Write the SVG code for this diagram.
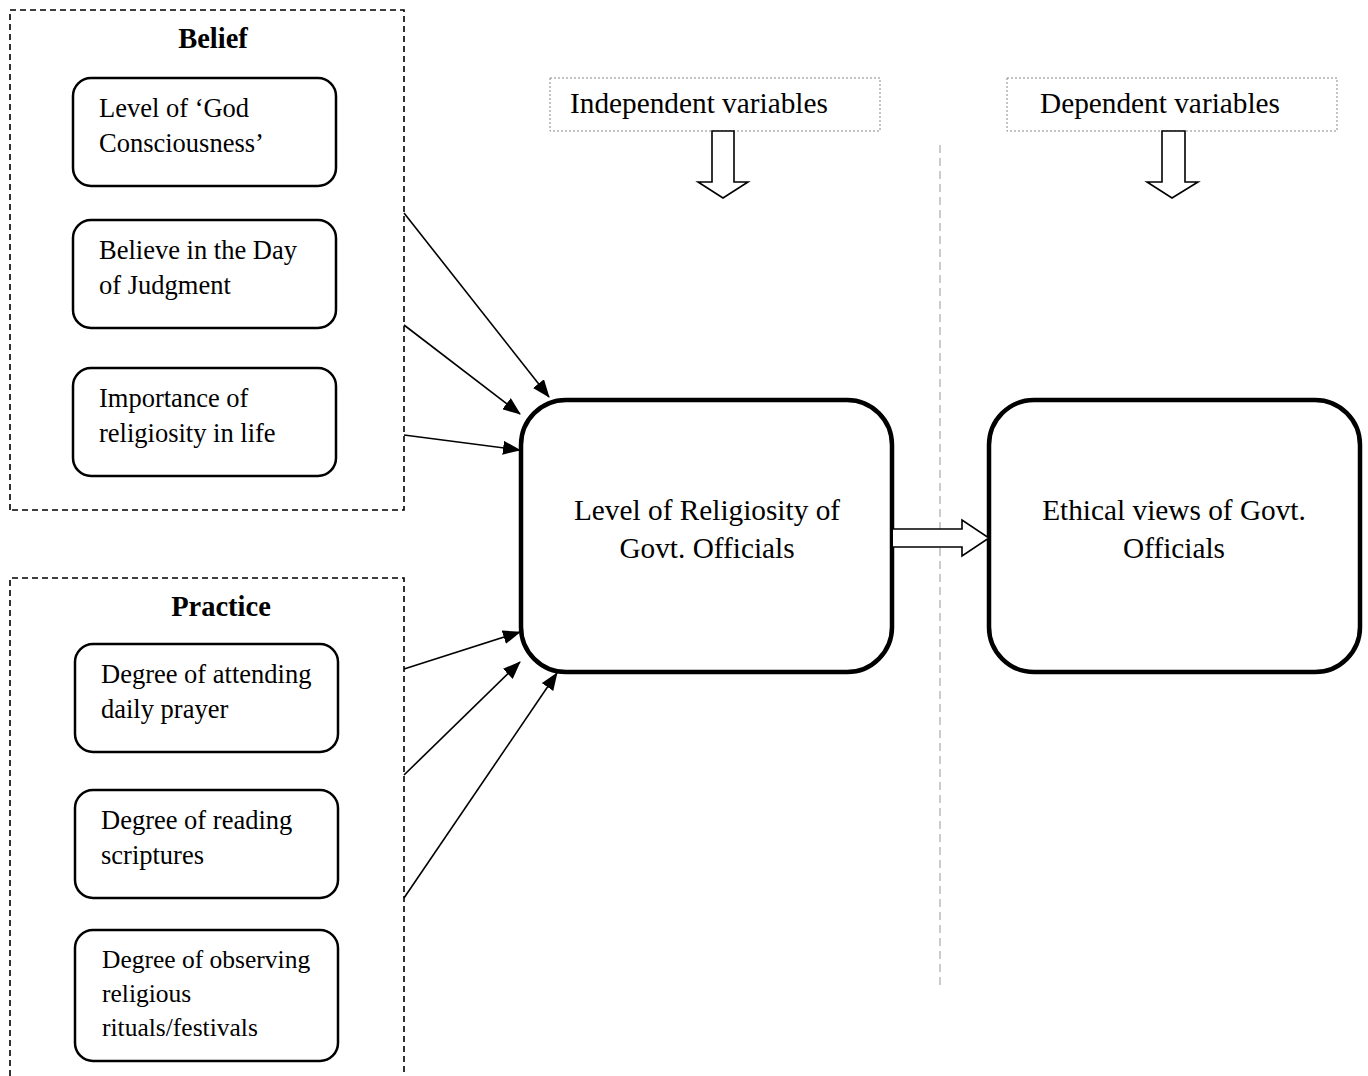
<svg xmlns="http://www.w3.org/2000/svg" width="1368" height="1076" viewBox="0 0 1368 1076">
<style>
text{font-family:"Liberation Serif","Times New Roman",serif;font-size:26.5px;fill:#000}
.title{font-weight:bold;font-size:28.5px}
.big{font-size:29.3px}
.sm{font-size:25.5px}
.grp{fill:none;stroke:#000;stroke-width:1.6;stroke-dasharray:6 4}
.item{fill:#fff;stroke:#000;stroke-width:2.5}
.main{fill:#fff;stroke:#000;stroke-width:4.5}
.lbl{fill:#fff;stroke:#888;stroke-width:1;stroke-dasharray:2 2}
.conn{fill:none;stroke:#000;stroke-width:1.6}
.block{fill:#fff;stroke:#000;stroke-width:1.6}
</style>
<defs>
<marker id="ah" markerWidth="18" markerHeight="14" refX="17" refY="7" orient="auto" markerUnits="userSpaceOnUse">
<path d="M0,0 L18,7 L0,14 Z" fill="#000"/>
</marker>
</defs>
<rect width="1368" height="1076" fill="#fff"/>
<line x1="940" y1="145" x2="940" y2="985" stroke="#bbb" stroke-width="1.5" stroke-dasharray="8 5"/>
<g id="belief-group">
<path class="grp" d="M10,510 L10,10 L404,10 L404,510 Z"/>
<text class="title" x="213" y="48" text-anchor="middle">Belief</text>
</g>
<g id="practice-group">
<path class="grp" d="M10,1076 L10,578 L404,578 L404,1076"/>
<text class="title" x="221" y="616" text-anchor="middle">Practice</text>
</g>
<g id="n-god">
<rect class="item" x="73" y="78" width="263" height="108" rx="18"/>
<text x="99" y="117">Level of ‘God</text>
<text x="99" y="152">Consciousness’</text>
</g>
<g id="n-judgment">
<rect class="item" x="73" y="220" width="263" height="108" rx="18"/>
<text x="99" y="259">Believe in the Day</text>
<text x="99" y="294">of Judgment</text>
</g>
<g id="n-importance">
<rect class="item" x="73" y="368" width="263" height="108" rx="18"/>
<text x="99" y="407">Importance of</text>
<text x="99" y="442">religiosity in life</text>
</g>
<g id="n-prayer">
<rect class="item" x="75" y="644" width="263" height="108" rx="18"/>
<text x="101" y="683">Degree of attending</text>
<text x="101" y="718">daily prayer</text>
</g>
<g id="n-scriptures">
<rect class="item" x="75" y="790" width="263" height="108" rx="18"/>
<text x="101" y="829">Degree of reading</text>
<text x="101" y="864">scriptures</text>
</g>
<g id="n-rituals">
<rect class="item" x="75" y="930" width="263" height="131" rx="18"/>
<text class="sm" x="102" y="968">Degree of observing</text>
<text class="sm" x="102" y="1002">religious</text>
<text class="sm" x="102" y="1036">rituals/festivals</text>
</g>
<g id="n-religiosity">
<rect class="main" x="521" y="400" width="371" height="272" rx="45"/>
<text class="big" x="707" y="520" text-anchor="middle">Level of Religiosity of</text>
<text class="big" x="707" y="558" text-anchor="middle">Govt. Officials</text>
</g>
<g id="n-ethical">
<rect class="main" x="989" y="400" width="371" height="272" rx="45"/>
<text class="big" x="1174" y="520" text-anchor="middle">Ethical views of Govt.</text>
<text class="big" x="1174" y="558" text-anchor="middle">Officials</text>
</g>
<g id="lbl-independent">
<rect class="lbl" x="550" y="78" width="330" height="53"/>
<text class="big" x="570" y="113">Independent variables</text>
<path class="block" d="M712,131 L734,131 L734,182 L748,182 L723,198 L698,182 L712,182 Z"/>
</g>
<g id="lbl-dependent">
<rect class="lbl" x="1007" y="78" width="330" height="53"/>
<text class="big" x="1040" y="113">Dependent variables</text>
<path class="block" d="M1162,131 L1185,131 L1185,182 L1198,182 L1172,198 L1147,182 L1162,182 Z"/>
</g>
<g id="connectors">
<line class="conn" x1="404" y1="213" x2="549" y2="397" marker-end="url(#ah)"/>
<line class="conn" x1="404" y1="325" x2="520" y2="414" marker-end="url(#ah)"/>
<line class="conn" x1="404" y1="435" x2="520" y2="450" marker-end="url(#ah)"/>
<line class="conn" x1="404" y1="669" x2="520" y2="632" marker-end="url(#ah)"/>
<line class="conn" x1="404" y1="775" x2="520" y2="662" marker-end="url(#ah)"/>
<line class="conn" x1="404" y1="898" x2="557" y2="673" marker-end="url(#ah)"/>
<path class="block" d="M893,529 L962,529 L962,520 L989,538 L962,556 L962,547 L893,547"/>
</g>
</svg>
